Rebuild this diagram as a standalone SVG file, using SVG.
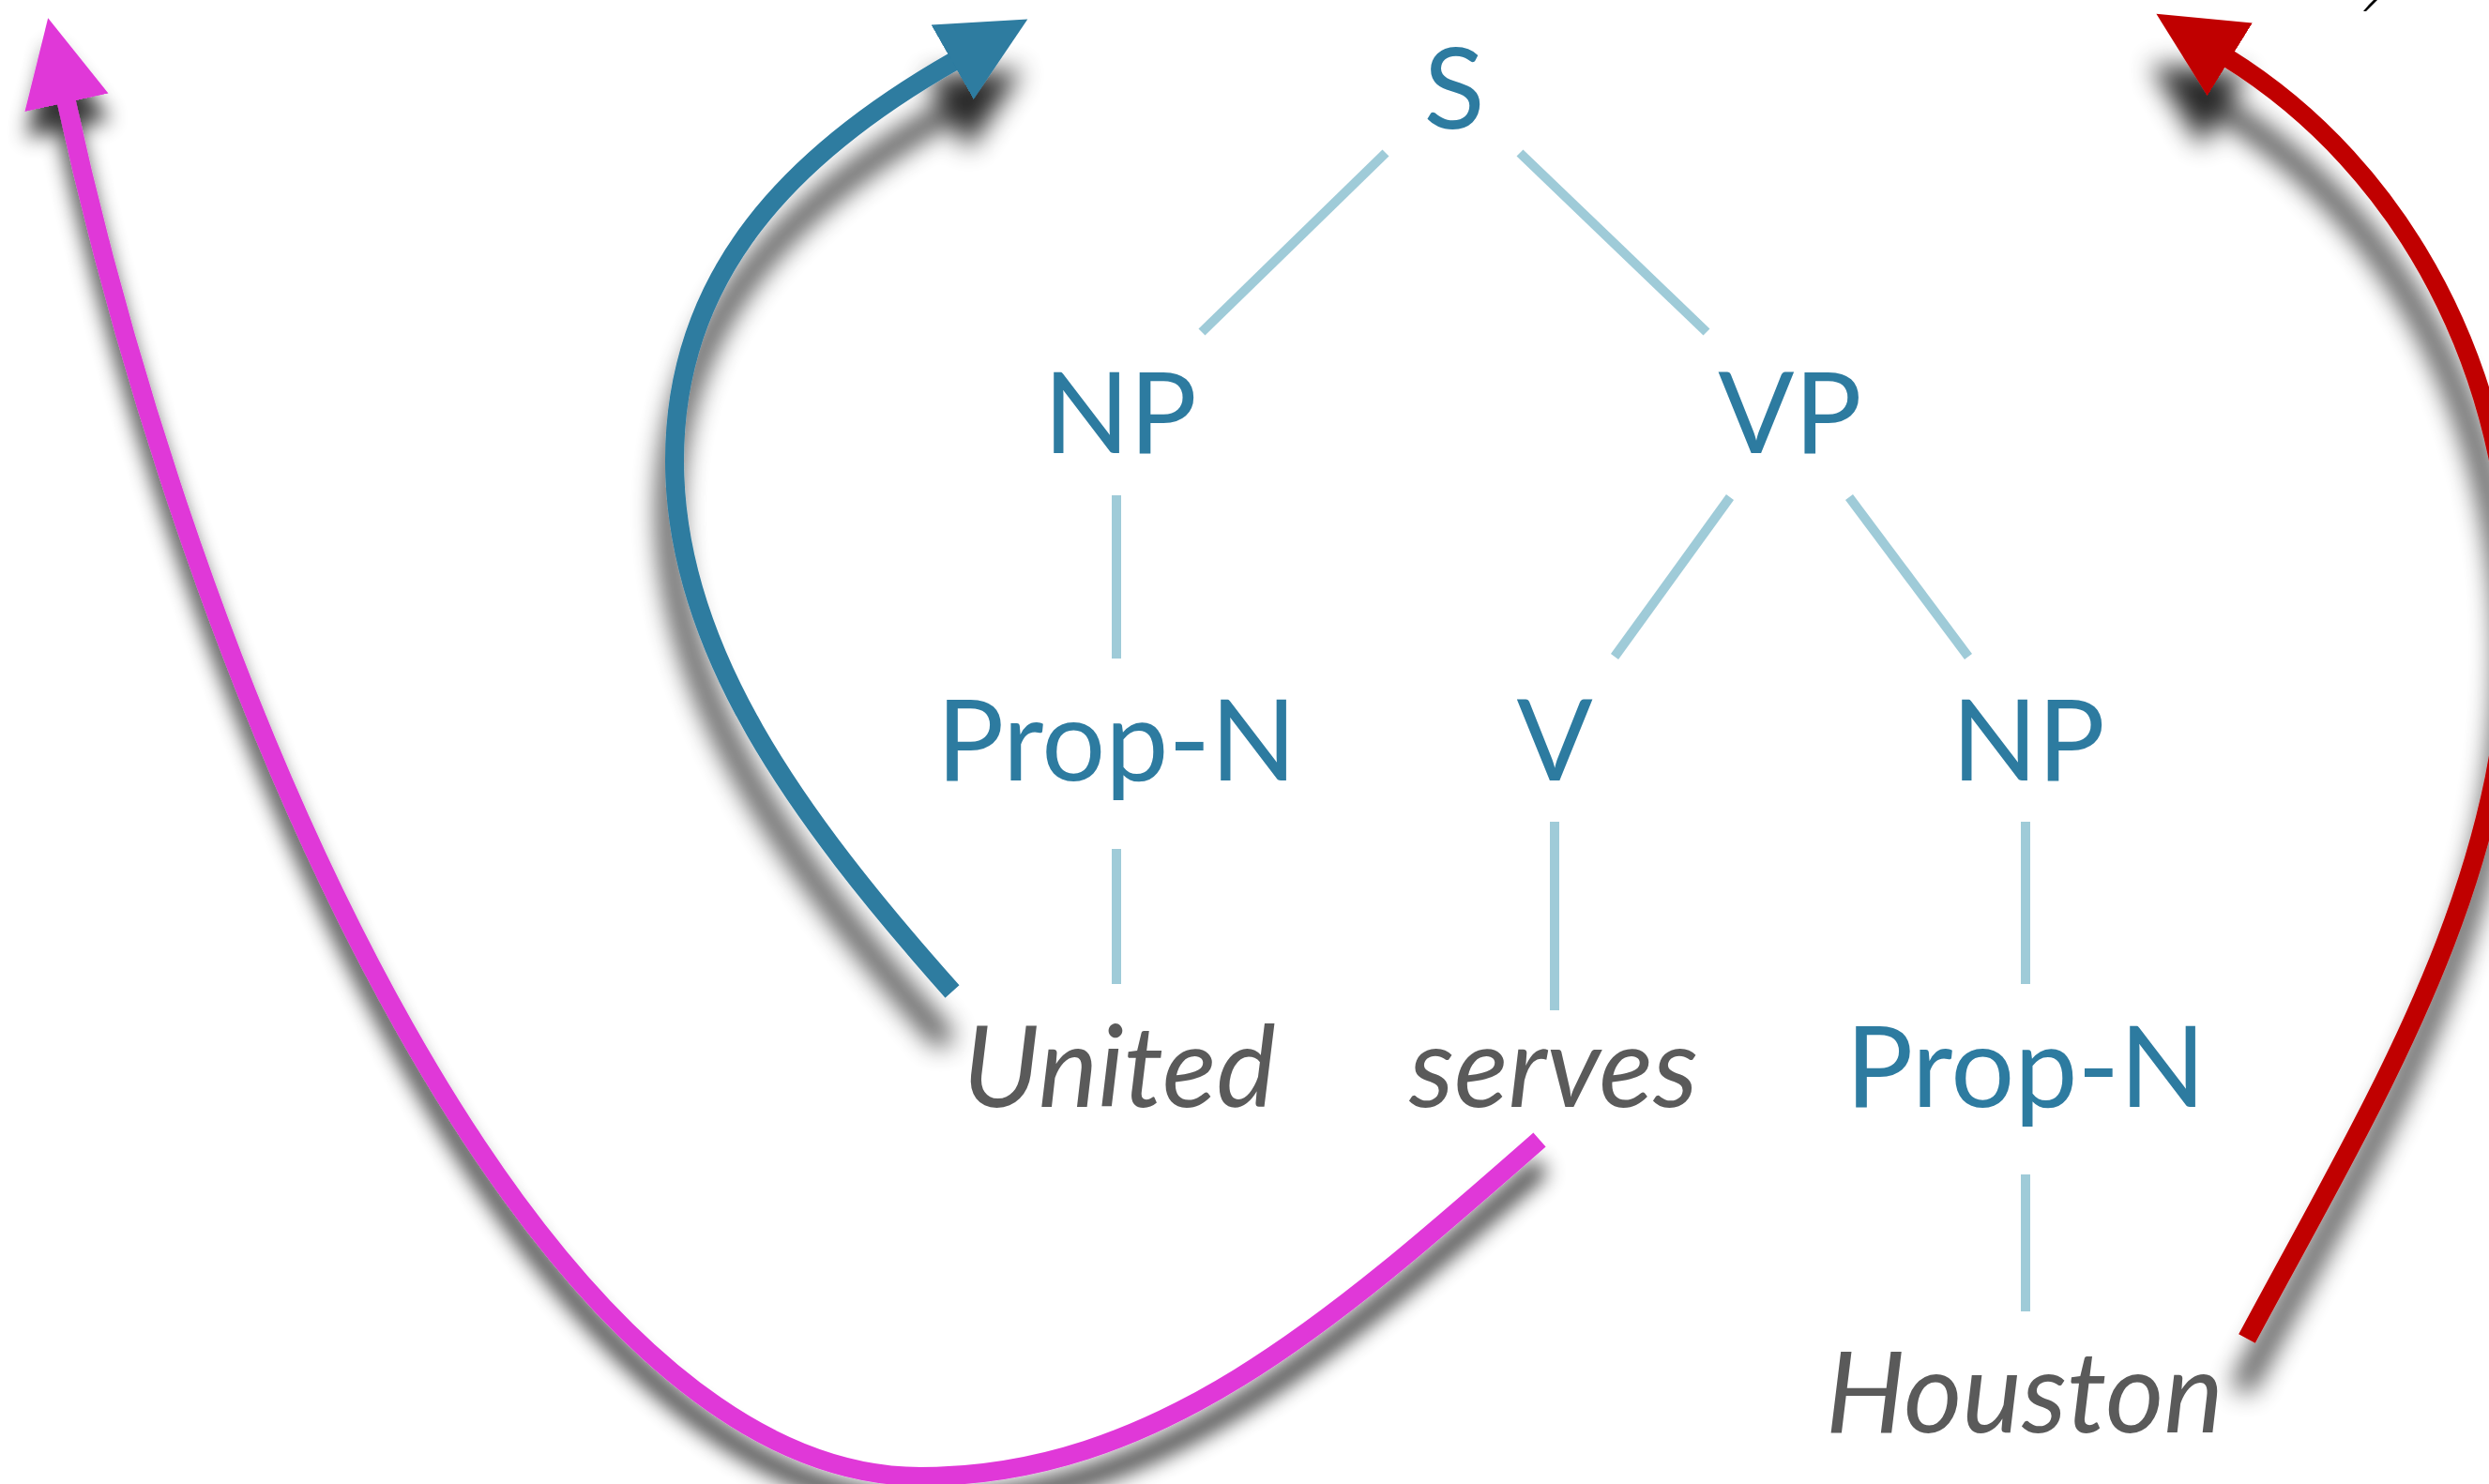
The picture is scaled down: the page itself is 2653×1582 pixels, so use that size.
<svg xmlns="http://www.w3.org/2000/svg" width="2653" height="1582" viewBox="0 0 2653 1582">
<style>
.cat{font-family:Lato,"Open Sans","Liberation Sans",sans-serif;font-size:120px;fill:#2D7BA0;text-anchor:middle}
.word{font-family:Lato,"Open Sans","Liberation Sans",sans-serif;font-size:120px;font-style:italic;fill:#5A5A5A;text-anchor:middle}
.edge{stroke:#9FCBD8;stroke-width:10;fill:none}
.arc{fill:none;stroke-width:20;stroke-linecap:butt}
</style>
<defs>
<filter id="shBig" filterUnits="userSpaceOnUse" x="-200" y="-200" width="3100" height="2000">
<feGaussianBlur in="SourceAlpha" stdDeviation="14"/>
<feOffset dx="-6" dy="54" result="b"/>
<feComponentTransfer><feFuncA type="linear" slope="0.85"/></feComponentTransfer>
<feMerge><feMergeNode/><feMergeNode in="SourceGraphic"/></feMerge>
</filter>
<filter id="shSmall" filterUnits="userSpaceOnUse" x="-200" y="-200" width="3100" height="2000">
<feGaussianBlur in="SourceAlpha" stdDeviation="11"/>
<feOffset dx="2" dy="28" result="b"/>
<feComponentTransfer><feFuncA type="linear" slope="0.8"/></feComponentTransfer>
<feMerge><feMergeNode/><feMergeNode in="SourceGraphic"/></feMerge>
</filter>
<marker id="headBlue" markerUnits="userSpaceOnUse" markerWidth="100" markerHeight="100" viewBox="0 -45 90 90" refX="4" refY="0" orient="auto"><path d="M0,-41 L83,0 L0,41 Z" fill="#2D7BA0"/></marker>
<marker id="headPink" markerUnits="userSpaceOnUse" markerWidth="100" markerHeight="100" viewBox="0 -45 90 90" refX="4" refY="0" orient="auto"><path d="M0,-41 L83,0 L0,41 Z" fill="#E038D8"/></marker>
<marker id="headRed" markerUnits="userSpaceOnUse" markerWidth="100" markerHeight="100" viewBox="0 -45 90 90" refX="4" refY="0" orient="auto"><path d="M0,-41 L83,0 L0,41 Z" fill="#C00000"/></marker>
</defs>
<rect width="2653" height="1582" fill="#FFFFFF"/>
<g id="connectors">
<line class="edge" x1="1477" y1="163" x2="1281" y2="354"/>
<line class="edge" x1="1620" y1="163" x2="1819" y2="354"/>
<line class="edge" x1="1190" y1="528" x2="1190" y2="702"/>
<line class="edge" x1="1844" y1="530" x2="1721" y2="700"/>
<line class="edge" x1="1971" y1="530" x2="2098" y2="700"/>
<line class="edge" x1="1190" y1="905" x2="1190" y2="1049"/>
<line class="edge" x1="1657" y1="876" x2="1657" y2="1077"/>
<line class="edge" x1="2159" y1="876" x2="2159" y2="1049"/>
<line class="edge" x1="2159" y1="1252" x2="2159" y2="1398"/>
</g>
<g id="node-S"><text class="cat" x="1550" y="137">S</text></g>
<g id="node-NP1"><text class="cat" x="1194" y="483">NP</text></g>
<g id="node-VP"><text class="cat" x="1908" y="483">VP</text></g>
<g id="node-PropN1"><text class="cat" x="1190" y="832">Prop-N</text></g>
<g id="node-V"><text class="cat" x="1657" y="832">V</text></g>
<g id="node-NP2"><text class="cat" x="2162" y="832">NP</text></g>
<g id="node-PropN2"><text class="cat" x="2159" y="1180">Prop-N</text></g>
<g id="node-United"><text class="word" x="1193" y="1180">United</text></g>
<g id="node-serves"><text class="word" x="1656" y="1180">serves</text></g>
<g id="node-Houston"><text class="word" x="2158" y="1527">Houston</text></g>
<g id="arrows">
<g filter="url(#shSmall)"><path class="arc" stroke="#E038D8" stroke-width="17" marker-end="url(#headPink)" d="M1641,1215 C1416,1413 1231,1574 981,1574 C581,1574 220,789 70,105"/></g>
<g filter="url(#shBig)"><path class="arc" stroke="#2D7BA0" marker-end="url(#headBlue)" d="M1015,1057 C849,870 719,691 719,491 C719,291 845,163 1019,64"/></g>
<g filter="url(#shBig)"><path class="arc" stroke="#C00000" marker-end="url(#headRed)" d="M2395,1427 C2537,1162 2678,940 2678,640 C2678,400 2565,180 2373,61"/></g>
</g>
<path d="M2519,12 L2525,5 L2530,0 L2534,0 L2527,7 L2522,12 Z" fill="#000000"/>
</svg>
